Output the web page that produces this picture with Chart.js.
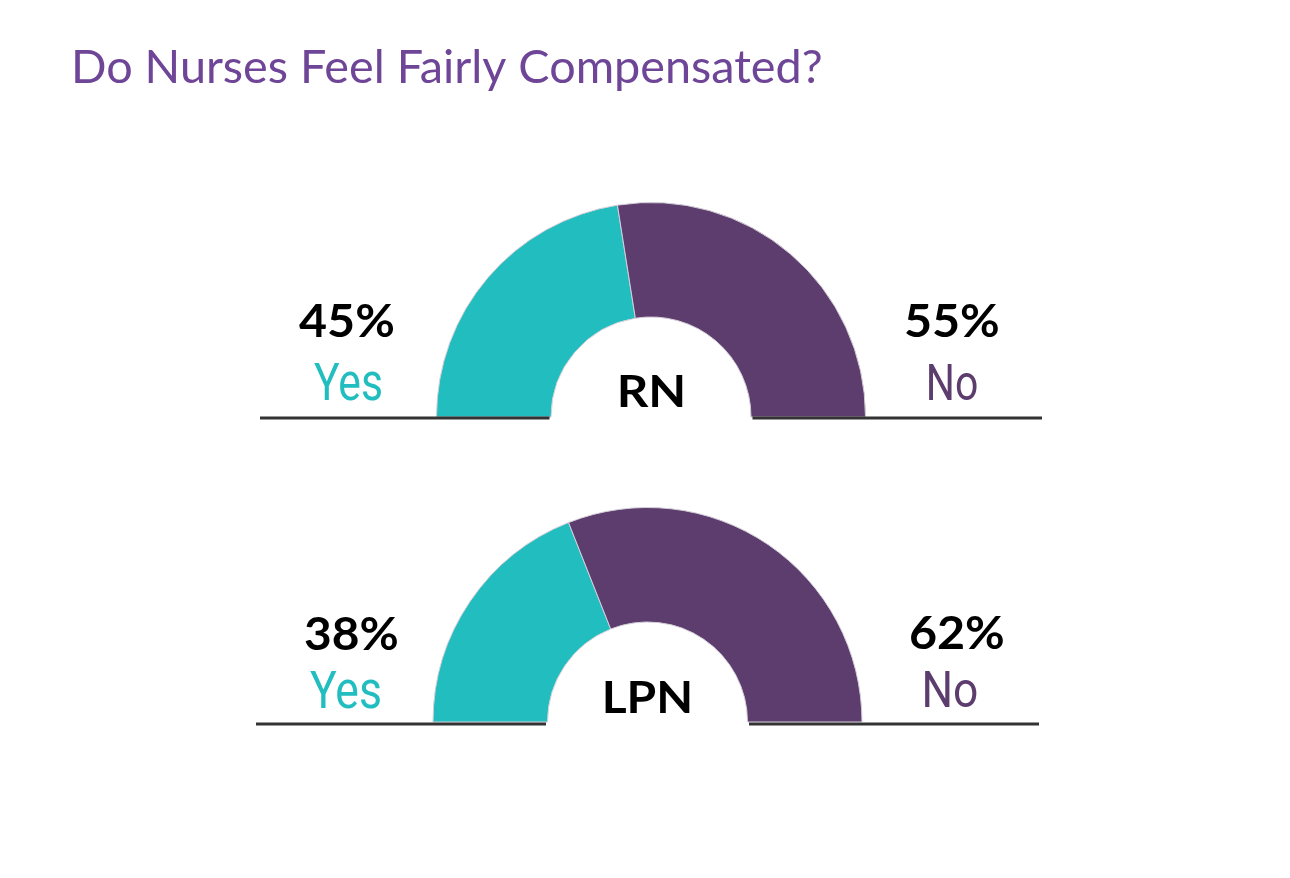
<!DOCTYPE html>
<html>
<head>
<meta charset="utf-8">
<script src="https://cdn.jsdelivr.net/npm/chart.js@4.4.1/dist/chart.umd.min.js"></script>
<style>
  html, body { margin: 0; padding: 0; background: #ffffff; }
  body { width: 1290px; height: 878px; position: relative; overflow: hidden; }
  canvas { position: absolute; left: 0; top: 0; }
</style>
</head>
<body>
<canvas id="rn" width="1290" height="878"></canvas>
<canvas id="lpn" width="1290" height="878"></canvas>
<script>
// ---- data ----
const chartTitle = 'Do Nurses Feel Fairly Compensated?';
const categories = ['RN', 'LPN'];
const answerLabels = ['Yes', 'No'];
const yesValues = [45, 38];
const noValues = [55, 62];

// ---- style ----
const TEAL = '#22BDBF';
const PURPLE = '#5C3D6E';
const TITLE_COLOR = '#6E4597';
const LINE_COLOR = '#333333';
const OUTER_R = 214.5;
const INNER_R = 100;

// layout per gauge (pixel geometry only)
const gaugeLayout = [
  { cx: 651, cy: 417, lineY: 418, lineL: 260, lineR: 1042,
    pctL: [299, 393, 337], pctR: [906, 998, 337],
    ansL: [314, 381, 399.5], ansR: [929, 977, 400],
    center: [620, 683, 407] },
  { cx: 647.5, cy: 722, lineY: 724, lineL: 256, lineR: 1039,
    pctL: [305, 397, 650], pctR: [910, 1003, 649],
    ansL: [310, 380, 708], ansR: [925, 977, 707],
    center: [605, 690, 713] }
];

function drawInk(ctx, text, x0, x1, baseline, font, color) {
  ctx.save();
  ctx.font = font;
  ctx.textAlign = 'left';
  ctx.textBaseline = 'alphabetic';
  const m = ctx.measureText(text);
  const inkL = -m.actualBoundingBoxLeft;
  const inkW = m.actualBoundingBoxLeft + m.actualBoundingBoxRight;
  const s = (x1 - x0) / inkW;
  ctx.translate(x0, baseline);
  ctx.scale(s, 1);
  ctx.fillStyle = color;
  ctx.fillText(text, -inkL, 0);
  ctx.restore();
}

function makeGauge(canvasId, i) {
  const L = gaugeLayout[i];
  const W = 1290, H = 878;
  const areaW = 2 * OUTER_R + 1;
  const areaH = OUTER_R + 1;
  const left = L.cx - areaW / 2;
  const top = L.cy - areaH / 2 - OUTER_R / 2;
  const gaugePlugin = {
    id: 'gaugeDecor' + i,
    afterDatasetsDraw(chart) {
      const ctx = chart.ctx;
      ctx.save();
      ctx.strokeStyle = LINE_COLOR;
      ctx.lineWidth = 3;
      ctx.beginPath();
      ctx.moveTo(L.lineL, L.lineY);
      ctx.lineTo(L.cx - INNER_R - 1.5, L.lineY);
      ctx.moveTo(L.cx + INNER_R + 1.5, L.lineY);
      ctx.lineTo(L.lineR, L.lineY);
      ctx.stroke();
      ctx.restore();
    },
    afterDraw(chart) {
      const ctx = chart.ctx;
      if (i === 0) {
        drawInk(ctx, chartTitle, 75, 821, 83, '400 46px Lato', TITLE_COLOR);
      }
      drawInk(ctx, yesValues[i] + '%', L.pctL[0], L.pctL[1], L.pctL[2], '700 46px Lato', '#000000');
      drawInk(ctx, noValues[i] + '%', L.pctR[0], L.pctR[1], L.pctR[2], '700 46px Lato', '#000000');
      drawInk(ctx, answerLabels[0], L.ansL[0], L.ansL[1], L.ansL[2], '400 51px Roboto', TEAL);
      drawInk(ctx, answerLabels[1], L.ansR[0], L.ansR[1], L.ansR[2], '400 50px Roboto', PURPLE);
      drawInk(ctx, categories[i], L.center[0], L.center[1], L.center[2], '700 44px Lato', '#000000');
    }
  };
  return new Chart(document.getElementById(canvasId), {
    type: 'doughnut',
    data: {
      labels: answerLabels,
      datasets: [{
        data: [yesValues[i], noValues[i]],
        backgroundColor: [TEAL, PURPLE],
        borderColor: '#d4ced8',
        borderWidth: 1
      }]
    },
    options: {
      responsive: false,
      animation: false,
      rotation: -90,
      circumference: 180,
      radius: OUTER_R,
      cutout: (INNER_R / OUTER_R * 100) + '%',
      layout: { padding: { left: left, right: W - left - areaW, top: top, bottom: H - top - areaH } },
      plugins: { legend: { display: false }, tooltip: { enabled: false }, title: { display: false } }
    },
    plugins: [gaugePlugin]
  });
}

document.fonts.load('400 46px Lato').then(() => document.fonts.load('700 46px Lato'))
  .then(() => document.fonts.load('400 50px Roboto'))
  .catch(() => {})
  .finally(() => {
    makeGauge('rn', 0);
    makeGauge('lpn', 1);
  });
</script>
</body>
</html>
